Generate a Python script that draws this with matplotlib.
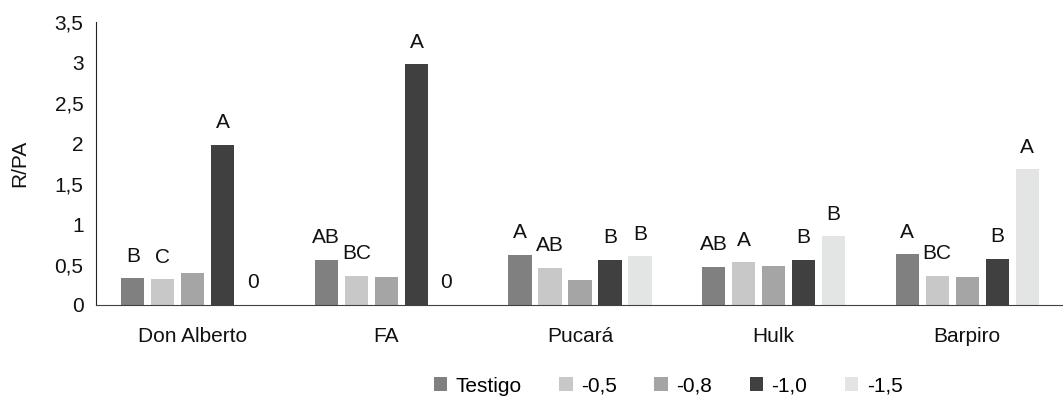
import numpy as np
import matplotlib
matplotlib.use("Agg")
import matplotlib.pyplot as plt

plt.rcParams['font.family'] = ['Liberation Sans', 'DejaVu Sans']

categories = ["Don Alberto", "FA", "Pucará", "Hulk", "Barpiro"]
series = ["Testigo", "-0,5", "-0,8", "-1,0", "-1,5"]
testigo = [0.33, 0.56, 0.62, 0.47, 0.63]
m05 = [0.32, 0.36, 0.46, 0.53, 0.36]
m08 = [0.40, 0.35, 0.31, 0.48, 0.35]
m10 = [1.98, 2.98, 0.56, 0.56, 0.57]
m15 = [0.0, 0.0, 0.60, 0.85, 1.68]
letters_testigo = ["B", "AB", "A", "AB", "A"]
letters_m05 = ["C", "BC", "AB", "A", "BC"]
letters_m08 = ["", "", "", "", ""]
letters_m10 = ["A", "A", "B", "B", "B"]
letters_m15 = ["0", "0", "B", "B", "A"]

colors = ["#808080", "#c8c8c8", "#a5a5a5", "#404040", "#e3e5e4"]
values = [testigo, m05, m08, m10, m15]
letters = [letters_testigo, letters_m05, letters_m08, letters_m10, letters_m15]

FS = 15
fig = plt.figure(figsize=(10.63, 4.01), dpi=100)
ax = fig.add_axes([96 / 1063, 96 / 401, 968 / 1063, 283 / 401])

x = np.arange(len(categories))
step, width = 0.155, 0.119
for i, (name, vals, labs, c) in enumerate(zip(series, values, letters, colors)):
    xs = x + (i - 2) * step
    ax.bar(xs, vals, width, color=c, label=name)
    for xi, v, lab in zip(xs, vals, labs):
        if lab:
            ax.annotate(lab, (xi, v), xytext=(0, 9), textcoords="offset points",
                        ha="center", va="bottom", fontsize=FS, color="#111111")

ax.set_xlim(-0.5, 4.5)
ax.set_ylim(0, 3.5)
ax.set_yticks(np.arange(0, 3.51, 0.5))
ax.set_yticklabels(["0", "0,5", "1", "1,5", "2", "2,5", "3", "3,5"])
ax.set_xticks(x)
ax.set_xticklabels(categories)
ax.tick_params(axis="both", length=0, labelsize=FS, colors="#111111")
ax.tick_params(axis="x", pad=16)
ax.tick_params(axis="y", pad=9)
ax.set_ylabel("R/PA", fontsize=FS, labelpad=18, color="#111111")
for s in ["top", "right"]:
    ax.spines[s].set_visible(False)
ax.spines["left"].set_color("#222222")
ax.spines["bottom"].set_color("#404040")

ax.legend(loc="center", bbox_to_anchor=(668 / 1063, 15 / 401), bbox_transform=fig.transFigure,
          ncol=5, frameon=False, fontsize=FS, handlelength=0.65, handleheight=0.65,
          handletextpad=0.4, columnspacing=1.8)

fig.savefig("out.png", dpi=100)
